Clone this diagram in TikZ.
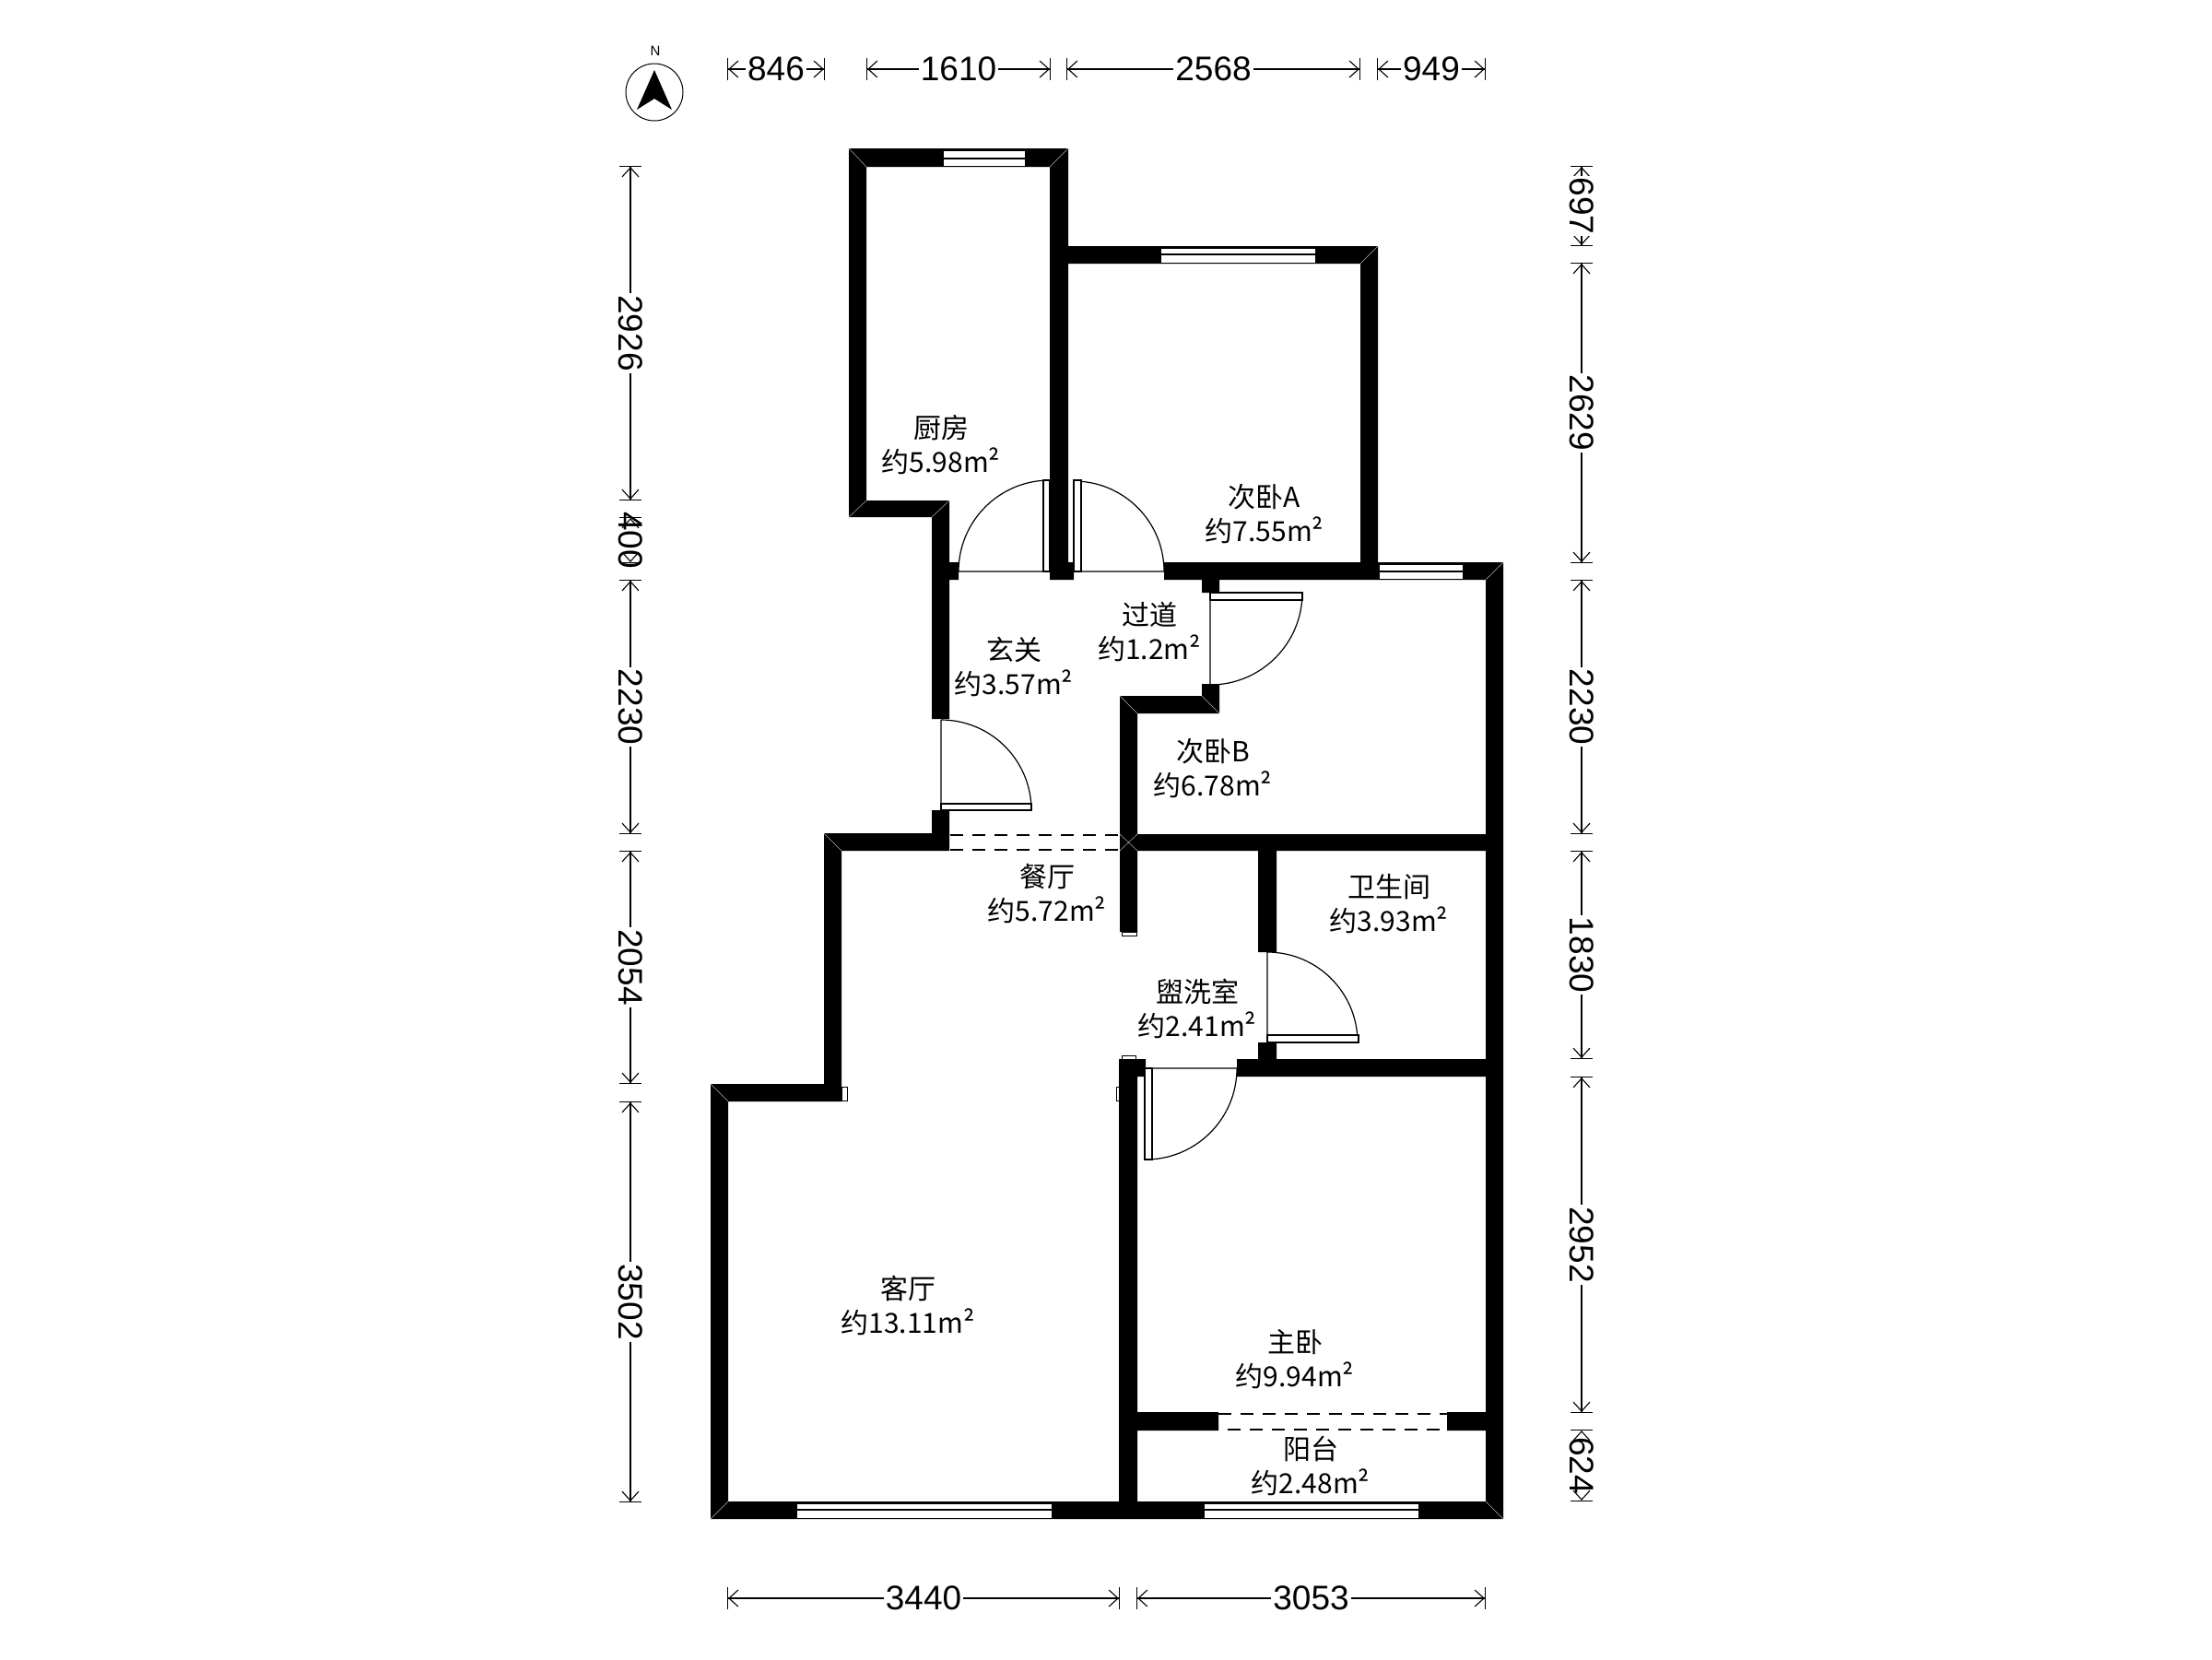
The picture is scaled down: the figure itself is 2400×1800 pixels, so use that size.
\documentclass[tikz,border=0pt]{standalone}
\usepackage{fontspec}
\setmainfont{Noto Sans CJK SC}
\newfontfamily\dimfont{Liberation Sans}
\usetikzlibrary{arrows.meta}
\begin{document}
\begin{tikzpicture}[x=1pt,y=-1pt,
      wall/.style={fill=black},
      seam/.style={draw=gray!60,line width=0.5pt},
      glass/.style={draw=black,fill=white,line width=1pt},
      sash/.style={draw=black,line width=1.6pt},
      leaf/.style={draw=black,fill=white,line width=1.2pt},
      swing/.style={draw=black,line width=1.2pt},
      thinopen/.style={draw=black,line width=1.1pt,dash pattern=on 14pt off 10pt},
      thickopen/.style={draw=black,line width=1.8pt,dash pattern=on 14pt off 10pt},
      room/.style={align=center,inner sep=0pt,font=\fontsize{30}{37}\selectfont},
      dimline/.style={line width=1.1pt,
        {Bar[width=24pt]Straight Barb[length=10pt,width=18pt]}-{Straight Barb[length=10pt,width=18pt]Bar[width=24pt]}},
      dimtext/.style={fill=white,inner sep=2pt,font=\dimfont\fontsize{37}{37}\selectfont},
      dimside/.style={dimtext,rotate=-90}]
    \path[fill=white,use as bounding box] (0,0) rectangle (2400,1800);

    % walls
    \fill[wall] (921,161) rectangle (1159,181)       % kitchen
      (921,161) rectangle (940,561)
      (921,543) rectangle (1030,561)
      (1139,161) rectangle (1159,629)
      (1011,543) rectangle (1030,780)
      (1011,610) rectangle (1040,629)
      (1139,610) rectangle (1165,629)
      (1139,267) rectangle (1495,286)                % bedroom A
      (1476,267) rectangle (1495,629)
      (1263,610) rectangle (1631,629)
      (1304,629) rectangle (1323,643)                % bedroom B
      (1304,742) rectangle (1323,774)
      (1215,755) rectangle (1323,774)
      (1215,755) rectangle (1234,1011)
      (1011,879) rectangle (1030,923)                % dining room
      (894,904) rectangle (1030,923)
      (1215,905) rectangle (1631,923)
      (894,904) rectangle (913,1195)
      (771,1176) rectangle (913,1195)                % living room
      (771,1176) rectangle (790,1648)
      (771,1629) rectangle (1631,1648)
      (1612,610) rectangle (1631,1648)
      (1365,923) rectangle (1385,1033)               % bathroom
      (1365,1131) rectangle (1385,1168)
      (1342,1149) rectangle (1631,1168)
      (1214,1149) rectangle (1243,1168)              % main bedroom
      (1214,1149) rectangle (1234,1648)
      (1234,1532) rectangle (1322,1552)              % balcony
      (1570,1532) rectangle (1612,1552);

    % corner seams
    \draw[seam] (921,161) -- (940,181) (1159,161) -- (1139,181)
      (1495,267) -- (1476,286) (1631,610) -- (1612,629)
      (921,561) -- (940,543) (1030,543) -- (1011,561)
      (894,904) -- (913,923) (771,1176) -- (790,1195)
      (771,1648) -- (790,1629) (1631,1648) -- (1612,1629)
      (1215,755) -- (1234,774) (1323,774) -- (1304,755)
      (1215,905) -- (1234,923) (1234,905) -- (1215,923);

    % windows
    \draw[glass] (1023,163) rectangle (1112,180);
    \draw[sash] (1023,172) -- (1112,172);
    \draw[glass] (1259,269) rectangle (1427,285);
    \draw[sash] (1259,276) -- (1427,276);
    \draw[glass] (1496,612) rectangle (1587,628);
    \draw[sash] (1496,620) -- (1587,620);
    \draw[glass] (864,1631) rectangle (1141,1647);
    \draw[sash] (864,1638) -- (1141,1638);
    \draw[glass] (1306,1631) rectangle (1539,1647);
    \draw[sash] (1306,1638) -- (1539,1638);

    % small wall caps
    \draw[glass] (1217,1011) rectangle (1233,1015);
    \draw[glass] (1217,1145) rectangle (1232,1149);
    \draw[glass] (1211,1179) rectangle (1214,1194);
    \draw[glass] (913,1179) rectangle (919,1194);

    % open passages
    \draw[thinopen] (1031,906) -- (1215,906);
    \draw[thinopen] (1031,922) -- (1215,922);
    \draw[thinopen] (1322,1534) -- (1570,1534);
    \draw[thickopen] (1332,1551) -- (1570,1551);

    % doors
    \draw[swing] (1040,620) -- (1139,620) (1040,620) arc[start angle=180,end angle=270,radius=99]; % kitchen
    \draw[leaf] (1132,521) rectangle (1139,620);
    \draw[swing] (1165,620) -- (1263,620) (1263,620) arc[start angle=0,end angle=-90,radius=98];   % bedroom A
    \draw[leaf] (1165,521) rectangle (1173,620);
    \draw[swing] (1313,643) -- (1313,742) (1413,643) arc[start angle=0,end angle=90,radius=100];   % bedroom B
    \draw[leaf] (1313,643) rectangle (1413,651);
    \draw[swing] (1021,781) -- (1021,879) (1021,781) arc[start angle=270,end angle=360,radius=98]; % entrance
    \draw[leaf] (1021,872) rectangle (1119,879);
    \draw[swing] (1375,1033) -- (1375,1131) (1375,1033) arc[start angle=270,end angle=360,radius=98]; % bathroom
    \draw[leaf] (1375,1123) rectangle (1474,1131);
    \draw[swing] (1243,1159) -- (1342,1159) (1342,1159) arc[start angle=0,end angle=90,radius=99]; % main bedroom
    \draw[leaf] (1242,1159) rectangle (1250,1258);

    % rooms
    \node[room] (KITCHEN) at (1021,483) {厨房\\约5.98m²};
    \node[room] (BEDA) at (1372,558) {次卧A\\约7.55m²};
    \node[room] (HALL) at (1100,723) {玄关\\约3.57m²};
    \node[room] (AISLE) at (1247,685) {过道\\约1.2m²};
    \node[room] (BEDB) at (1316,834) {次卧B\\约6.78m²};
    \node[room] (DINING) at (1136,970) {餐厅\\约5.72m²};
    \node[room] (BATH) at (1507,981) {卫生间\\约3.93m²};
    \node[room] (WASH) at (1299,1094) {盥洗室\\约2.41m²};
    \node[room] (LIVING) at (985,1416) {客厅\\约13.11m²};
    \node[room] (MASTER) at (1405,1475) {主卧\\约9.94m²};
    \node[room] (BALCONY) at (1422,1590) {阳台\\约2.48m²};

    % compass
    \node[draw,circle,line width=1pt,minimum size=62pt,inner sep=0pt] (COMPASS) at (710,100) {};
    \node[inner sep=0pt,font=\dimfont\fontsize{15}{15}\selectfont] (NORTH) at (711,55) {N};
    \fill (710,76) -- (729,119) -- (710,107) -- (691,119) -- cycle;

    % top dimensions
    \coordinate (TA0) at (789,75);
    \coordinate (TA1) at (895,75);
    \coordinate (TB0) at (940,75);
    \coordinate (TB1) at (1140,75);
    \coordinate (TC0) at (1157,75);
    \coordinate (TC1) at (1476,75);
    \coordinate (TD0) at (1494,75);
    \coordinate (TD1) at (1612,75);
    \draw[dimline] (TA0) -- node[dimtext] (T846) {846} (TA1);
    \draw[dimline] (TB0) -- node[dimtext] (T1610) {1610} (TB1);
    \draw[dimline] (TC0) -- node[dimtext] (T2568) {2568} (TC1);
    \draw[dimline] (TD0) -- node[dimtext] (T949) {949} (TD1);

    % left dimensions
    \coordinate (LA0) at (684,180);
    \coordinate (LA1) at (684,543);
    \coordinate (LB0) at (684,561);
    \coordinate (LB1) at (684,611);
    \coordinate (LC0) at (684,629);
    \coordinate (LC1) at (684,905);
    \coordinate (LD0) at (684,923);
    \coordinate (LD1) at (684,1176);
    \coordinate (LE0) at (684,1195);
    \coordinate (LE1) at (684,1630);
    \draw[dimline] (LA0) -- node[dimside] (L2926) {2926} (LA1);
    \draw[dimline,dash pattern=on 0pt off 60pt] (LB0) -- node[dimside,fill=none] (L400) {400} (LB1);
    \draw[dimline] (LC0) -- node[dimside] (L2230) {2230} (LC1);
    \draw[dimline] (LD0) -- node[dimside] (L2054) {2054} (LD1);
    \draw[dimline] (LE0) -- node[dimside] (L3502) {3502} (LE1);

    % right dimensions
    \coordinate (RA0) at (1716,180);
    \coordinate (RA1) at (1716,267);
    \coordinate (RB0) at (1716,285);
    \coordinate (RB1) at (1716,611);
    \coordinate (RC0) at (1716,629);
    \coordinate (RC1) at (1716,905);
    \coordinate (RD0) at (1716,923);
    \coordinate (RD1) at (1716,1149);
    \coordinate (RE0) at (1716,1168);
    \coordinate (RE1) at (1716,1533);
    \coordinate (RF0) at (1716,1551);
    \coordinate (RF1) at (1716,1629);
    \draw[dimline] (RA0) -- node[dimside] (R697) {697} (RA1);
    \draw[dimline] (RB0) -- node[dimside] (R2629) {2629} (RB1);
    \draw[dimline] (RC0) -- node[dimside] (R2230) {2230} (RC1);
    \draw[dimline] (RD0) -- node[dimside] (R1830) {1830} (RD1);
    \draw[dimline] (RE0) -- node[dimside] (R2952) {2952} (RE1);
    \draw[dimline,dash pattern=on 0pt off 90pt] (RF0) -- node[dimside,fill=none] (R624) {624} (RF1);

    % bottom dimensions
    \coordinate (BA0) at (789,1734);
    \coordinate (BA1) at (1215,1734);
    \coordinate (BB0) at (1233,1734);
    \coordinate (BB1) at (1612,1734);
    \draw[dimline] (BA0) -- node[dimtext] (B3440) {3440} (BA1);
    \draw[dimline] (BB0) -- node[dimtext] (B3053) {3053} (BB1);
  \end{tikzpicture}
\end{document}
